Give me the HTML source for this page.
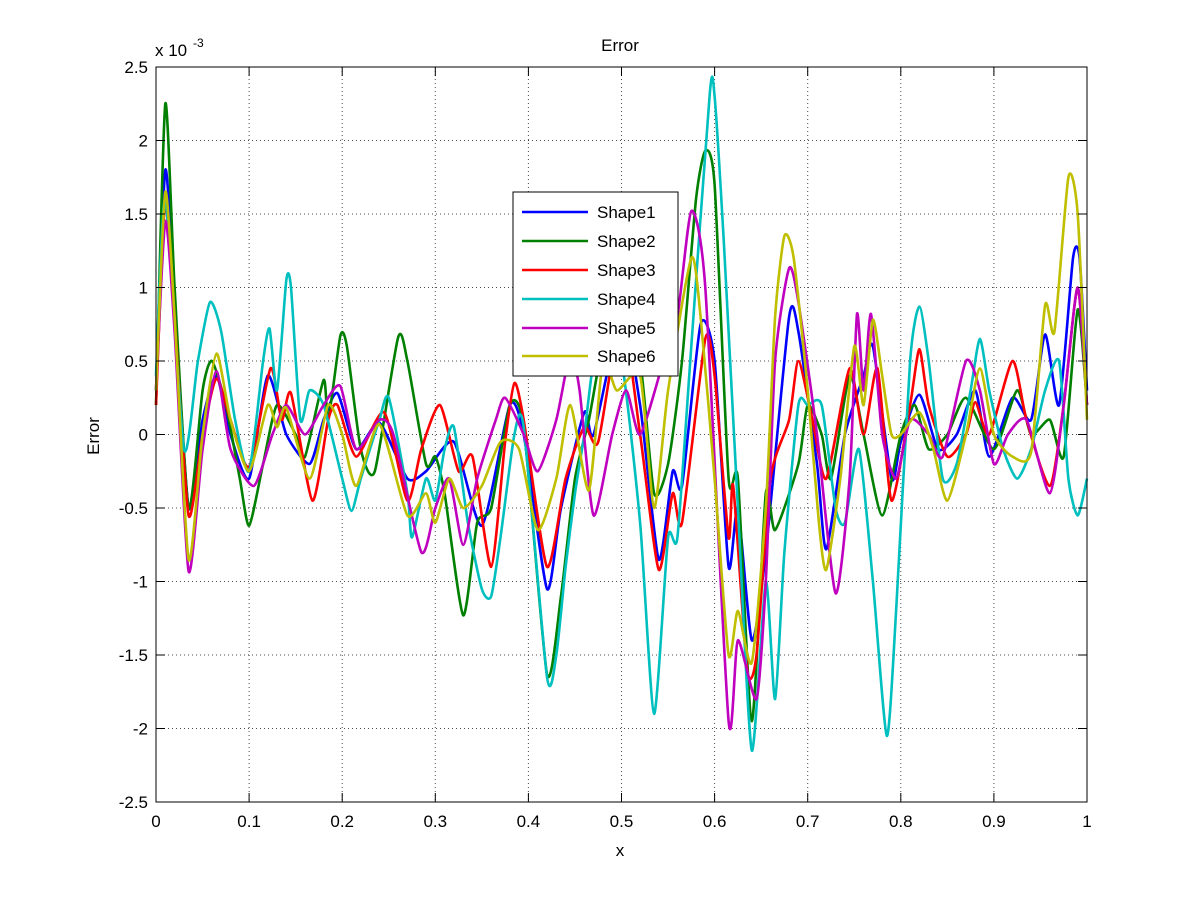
<!DOCTYPE html>
<html><head><meta charset="utf-8"><style>
body{margin:0;background:#fff;}
svg{display:block;font-family:"Liberation Sans",Arial,sans-serif;}
</style></head><body>
<svg id="s" width="1201" height="901" viewBox="0 0 1201 901" xmlns="http://www.w3.org/2000/svg">
<rect width="1201" height="901" fill="#fff"/>
<g id="grid" stroke="#000" stroke-width="1" stroke-dasharray="1,3" opacity="0.7"></g>
<g id="lines" fill="none" stroke-width="2.6" stroke-linejoin="round"></g>
<rect x="156" y="67" width="931" height="735" fill="none" stroke="#000" stroke-width="1"/>
<g id="ticks" stroke="#000" stroke-width="1"></g>
<g id="labels" font-size="17" fill="#000"></g>
<text x="620" y="51" font-size="17" text-anchor="middle">Error</text>
<text x="620" y="856" font-size="17" text-anchor="middle">x</text>
<text transform="translate(99,436) rotate(-90)" font-size="17" text-anchor="middle">Error</text>
<text x="155" y="56" font-size="17">x 10</text><text x="193" y="47" font-size="12">-3</text>
<g id="legend"></g>
</svg>
<script>
var X0=156,X1=1087,Y0=434.5,SY=147;
function px(x){return X0+x*(X1-X0);}function py(y){return Y0-y*SY;}
var ns="http://www.w3.org/2000/svg";
function el(t,a,p){var e=document.createElementNS(ns,t);for(var k in a)e.setAttribute(k,a[k]);document.getElementById(p).appendChild(e);return e;}
for(var i=0;i<=10;i++){var x=px(i/10);
 if(i>0&&i<10)el('line',{x1:x,y1:67,x2:x,y2:802},'grid');
 el('line',{x1:x,y1:802,x2:x,y2:793},'ticks');el('line',{x1:x,y1:67,x2:x,y2:76},'ticks');
 var t=el('text',{x:x,y:827,'text-anchor':'middle'},'labels');t.textContent=(i==0?'0':i==10?'1':(i/10).toString());}
for(var j=-5;j<=5;j++){var v=j*0.5,y=py(v);
 if(j>-5&&j<5)el('line',{x1:156,y1:y,x2:1087,y2:y},'grid');
 el('line',{x1:156,y1:y,x2:165,y2:y},'ticks');el('line',{x1:1087,y1:y,x2:1078,y2:y},'ticks');
 var t=el('text',{x:148,y:y+6,'text-anchor':'end'},'labels');t.textContent=(v==0?'0':v.toString());}
var D=[
['#0000ff',[[0,0.3],[0.01,1.8],[0.02,0.9],[0.035,-0.5],[0.05,0.1],[0.065,0.4],[0.08,0.0],[0.1,-0.3],[0.12,0.4],[0.14,0.0],[0.165,-0.2],[0.18,0.1],[0.195,0.28],[0.215,-0.1],[0.24,0.08],[0.27,-0.3],[0.29,-0.25],[0.32,-0.05],[0.35,-0.62],[0.38,0.2],[0.395,0.0],[0.42,-1.05],[0.435,-0.5],[0.46,0.15],[0.47,0.0],[0.5,0.8],[0.52,0.2],[0.54,-0.85],[0.555,-0.25],[0.565,-0.35],[0.585,0.75],[0.6,0.5],[0.615,-0.9],[0.625,-0.5],[0.64,-1.4],[0.655,-0.8],[0.68,0.8],[0.69,0.7],[0.71,-0.2],[0.72,-0.78],[0.74,0.0],[0.76,0.4],[0.77,0.6],[0.79,-0.3],[0.8,-0.05],[0.82,0.27],[0.84,-0.1],[0.86,0.0],[0.88,0.3],[0.895,-0.15],[0.92,0.25],[0.94,0.1],[0.955,0.68],[0.97,0.2],[0.985,1.2],[0.992,1.2],[1,0.3]],'Shape1'],
['#008000',[[0,0.2],[0.01,2.25],[0.02,1.0],[0.035,-0.5],[0.05,0.3],[0.06,0.5],[0.075,0.2],[0.09,-0.3],[0.1,-0.62],[0.115,-0.2],[0.13,0.2],[0.15,0.0],[0.16,-0.15],[0.18,0.37],[0.185,0.1],[0.198,0.67],[0.205,0.6],[0.22,-0.1],[0.235,-0.25],[0.26,0.66],[0.27,0.5],[0.29,-0.2],[0.3,-0.15],[0.31,-0.4],[0.33,-1.23],[0.345,-0.6],[0.36,-0.5],[0.38,0.2],[0.395,0.05],[0.42,-1.63],[0.435,-1.1],[0.45,-0.3],[0.465,0.1],[0.48,0.6],[0.5,0.8],[0.52,0.5],[0.535,-0.4],[0.55,-0.2],[0.565,0.5],[0.58,1.6],[0.59,1.93],[0.6,1.7],[0.615,-0.3],[0.625,-0.3],[0.64,-1.95],[0.655,-0.4],[0.665,-0.65],[0.69,-0.2],[0.7,0.2],[0.715,0.0],[0.725,-0.3],[0.745,0.4],[0.76,0.0],[0.78,-0.55],[0.8,0.0],[0.815,0.2],[0.83,-0.1],[0.85,0.0],[0.87,0.25],[0.9,-0.1],[0.925,0.3],[0.94,0.0],[0.96,0.1],[0.975,-0.15],[0.99,0.85],[1,0.2]],'Shape2'],
['#ff0000',[[0,0.2],[0.01,1.6],[0.02,0.8],[0.035,-0.55],[0.05,0.0],[0.065,0.38],[0.08,0.1],[0.1,-0.22],[0.123,0.45],[0.135,0.1],[0.145,0.28],[0.168,-0.45],[0.185,0.1],[0.195,0.2],[0.215,-0.15],[0.245,0.15],[0.27,-0.45],[0.285,-0.1],[0.305,0.2],[0.325,-0.25],[0.34,-0.15],[0.36,-0.9],[0.375,-0.05],[0.385,0.35],[0.395,0.1],[0.42,-0.9],[0.44,-0.3],[0.46,0.05],[0.475,-0.05],[0.5,0.8],[0.52,0.0],[0.54,-0.92],[0.555,-0.4],[0.565,-0.6],[0.59,0.65],[0.6,0.4],[0.615,-0.7],[0.62,-0.35],[0.635,-1.6],[0.645,-1.5],[0.66,-0.3],[0.68,0.1],[0.69,0.5],[0.705,0.1],[0.72,-0.3],[0.745,0.45],[0.76,0.0],[0.775,0.45],[0.79,-0.45],[0.81,0.2],[0.82,0.58],[0.83,0.2],[0.85,-0.15],[0.87,0.0],[0.88,0.22],[0.895,0.0],[0.92,0.5],[0.935,0.1],[0.96,-0.35],[0.975,0.2],[0.99,1.0],[1,0.2]],'Shape3'],
['#00bfbf',[[0,0.4],[0.01,1.6],[0.03,-0.1],[0.045,0.5],[0.058,0.9],[0.07,0.7],[0.085,0.1],[0.1,-0.25],[0.115,0.5],[0.122,0.72],[0.13,0.3],[0.14,1.05],[0.145,1.0],[0.155,0.1],[0.165,0.3],[0.18,0.2],[0.2,-0.3],[0.21,-0.52],[0.22,-0.3],[0.24,0.1],[0.25,0.25],[0.27,-0.4],[0.275,-0.7],[0.29,-0.3],[0.3,-0.45],[0.31,-0.1],[0.32,0.05],[0.335,-0.6],[0.35,-1.05],[0.36,-1.1],[0.37,-0.7],[0.385,0.0],[0.395,0.05],[0.42,-1.65],[0.43,-1.5],[0.44,-0.9],[0.45,-0.4],[0.46,0.0],[0.47,0.5],[0.48,0.6],[0.5,0.5],[0.52,-0.6],[0.535,-1.9],[0.55,-0.7],[0.56,-0.7],[0.575,0.6],[0.595,2.33],[0.6,2.3],[0.61,1.3],[0.625,-0.5],[0.64,-2.15],[0.655,-1.0],[0.665,-1.8],[0.675,-0.8],[0.69,0.2],[0.7,0.2],[0.715,0.2],[0.73,-0.5],[0.74,-0.6],[0.755,-0.1],[0.77,-1.0],[0.785,-2.05],[0.795,-1.2],[0.81,0.5],[0.82,0.87],[0.83,0.5],[0.845,-0.3],[0.86,-0.2],[0.875,0.3],[0.885,0.65],[0.895,0.3],[0.91,-0.1],[0.925,-0.3],[0.94,-0.1],[0.955,0.3],[0.97,0.5],[0.98,-0.3],[0.99,-0.55],[1,-0.3]],'Shape4'],
['#bf00bf',[[0,0.3],[0.01,1.45],[0.02,0.7],[0.035,-0.93],[0.05,-0.1],[0.065,0.43],[0.08,-0.1],[0.105,-0.35],[0.125,0.0],[0.14,0.2],[0.16,0.0],[0.18,0.2],[0.198,0.33],[0.215,-0.1],[0.24,0.1],[0.255,0.0],[0.285,-0.8],[0.3,-0.5],[0.315,-0.3],[0.33,-0.75],[0.345,-0.3],[0.365,0.1],[0.375,0.25],[0.395,0.0],[0.41,-0.25],[0.43,0.1],[0.445,0.55],[0.455,0.3],[0.47,-0.55],[0.49,0.0],[0.505,0.3],[0.52,0.0],[0.545,0.5],[0.56,0.8],[0.575,1.52],[0.59,1.0],[0.615,-1.95],[0.625,-1.4],[0.645,-1.8],[0.655,-1.0],[0.665,0.5],[0.68,1.13],[0.69,0.9],[0.71,0.0],[0.73,-1.08],[0.745,-0.3],[0.753,0.82],[0.76,0.3],[0.768,0.82],[0.78,0.0],[0.795,-0.3],[0.81,0.1],[0.83,0.0],[0.845,-0.15],[0.87,0.5],[0.885,0.3],[0.9,-0.2],[0.915,0.0],[0.935,0.1],[0.96,-0.4],[0.975,0.2],[0.99,1.0],[1,0.2]],'Shape5'],
['#bfbf00',[[0,0.3],[0.01,1.65],[0.02,0.8],[0.035,-0.85],[0.05,0.0],[0.065,0.55],[0.08,0.1],[0.1,-0.25],[0.12,0.2],[0.13,0.05],[0.14,0.18],[0.165,-0.3],[0.185,0.2],[0.2,0.0],[0.215,-0.35],[0.24,0.07],[0.27,-0.55],[0.29,-0.4],[0.3,-0.6],[0.315,-0.3],[0.33,-0.5],[0.35,-0.35],[0.37,-0.05],[0.39,-0.1],[0.41,-0.65],[0.43,-0.3],[0.445,0.2],[0.465,-0.38],[0.48,0.5],[0.495,0.3],[0.52,0.4],[0.535,-0.5],[0.55,0.3],[0.575,1.2],[0.585,0.8],[0.6,-0.3],[0.615,-1.5],[0.625,-1.2],[0.64,-1.55],[0.655,-0.5],[0.665,0.8],[0.675,1.35],[0.685,1.2],[0.7,0.3],[0.712,-0.6],[0.72,-0.92],[0.735,-0.3],[0.75,0.6],[0.76,0.2],[0.77,0.78],[0.78,0.4],[0.79,0.0],[0.8,0.0],[0.82,0.15],[0.835,-0.1],[0.85,-0.45],[0.87,0.0],[0.885,0.45],[0.9,0.0],[0.92,-0.15],[0.94,-0.12],[0.955,0.88],[0.965,0.7],[0.98,1.75],[0.99,1.5],[1,0.1]],'Shape6']];
D.forEach(function(s){var p=s[1].map(function(q){return [px(q[0]),py(q[1])];});
 var d='M'+p[0][0].toFixed(1)+','+p[0][1].toFixed(1);
 var k=9;
 for(var i=0;i<p.length-1;i++){var a=p[i-1]||p[i],b=p[i],c=p[i+1],e=p[i+2]||c;
  var c1=[b[0]+(c[0]-a[0])/k,b[1]+(c[1]-a[1])/k],c2=[c[0]-(e[0]-b[0])/k,c[1]-(e[1]-b[1])/k];
  d+='C'+c1[0].toFixed(1)+','+c1[1].toFixed(1)+' '+c2[0].toFixed(1)+','+c2[1].toFixed(1)+' '+c[0].toFixed(1)+','+c[1].toFixed(1);}
 el('path',{d:d,stroke:s[0]},'lines');});
el('rect',{x:513,y:192,width:165,height:184,fill:'#fff',stroke:'#000','stroke-width':1},'legend');
var ly=[212,241,270,299,328,356];
D.forEach(function(s,i){el('line',{x1:522,y1:ly[i],x2:588,y2:ly[i],stroke:s[0],'stroke-width':2.6},'legend');
 var t=el('text',{x:597,y:ly[i]+6,'font-size':17},'legend');t.textContent=s[2];});
</script>
</body></html>
